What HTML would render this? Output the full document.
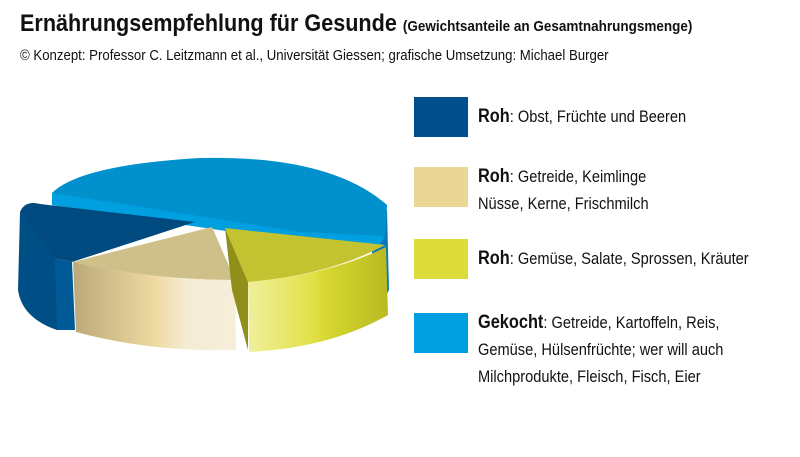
<!DOCTYPE html>
<html><head><meta charset="utf-8"><style>
body{margin:0;width:800px;height:457px;background:#fff;font-family:"Liberation Sans",sans-serif;overflow:hidden;position:relative}
.t{position:absolute;white-space:nowrap;color:#111}
.box{position:absolute;width:54px;height:40px}
.lg{position:absolute;font-size:17px;line-height:27px;color:#111;transform:scaleX(0.86);transform-origin:left;white-space:nowrap}
.lg b{font-size:19px}
</style></head><body>
<div class="t" style="left:20px;top:10px;font-size:24px;font-weight:bold;transform:scaleX(0.9);transform-origin:left">Ernährungsempfehlung für Gesunde <span style="font-size:15px;font-weight:bold">(Gewichtsanteile an Gesamtnahrungsmenge)</span></div>
<div class="t" style="left:20px;top:47px;font-size:15px;transform:scaleX(0.88);transform-origin:left">© Konzept: Professor C. Leitzmann et al., Universität Giessen; grafische Umsetzung: Michael Burger</div>
<svg width="800" height="457" style="position:absolute;left:0;top:0">
<defs>
<linearGradient id="bg" x1="0" x2="1"><stop offset="0" stop-color="#bba97a"/><stop offset="0.5" stop-color="#eed9a0"/><stop offset="0.7" stop-color="#f5ecd6"/><stop offset="1" stop-color="#f6eed9"/></linearGradient>
<linearGradient id="yg" x1="0" x2="1"><stop offset="0" stop-color="#f0ef9c"/><stop offset="0.45" stop-color="#e2e14a"/><stop offset="0.55" stop-color="#d7d830"/><stop offset="1" stop-color="#b9ba22"/></linearGradient>
</defs>
<!-- big blue slice -->
<path d="M372,225 L387,210 L389,290 Q385,300 372,305 Z" fill="#0a78b8"/>
<path d="M52,193 Q80,165 200,158 Q330,155 387,205 L385,235 Q340,245 300,242 L52,205 Z" fill="#0090cc"/>
<path d="M52,193 L52,205 L300,242 L378,248 L385,236 L300,232 Z" fill="#00a0e0"/>
<!-- dark blue -->
<path d="M20,212 L18,290 Q22,318 57,330 L57,258 Z" fill="#004e86"/>
<path d="M20,212 Q25,200 40,204 L195,222 L72,262 L55,258 Z" fill="#004a80"/>
<path d="M55,258 L72,262 L75,330 L57,330 Z" fill="#005a96"/>
<!-- beige -->
<path d="M73,262 L212,227 L235,280 Q150,280 73,262 Z" fill="#cfbf88"/>
<path d="M73,262 Q150,280 235,280 L236,350 Q150,352 76,332 Z" fill="url(#bg)"/>
<!-- yellow -->
<path d="M225,228 L248,282 L248,350 L232,290 Z" fill="#8f8f1a"/>
<path d="M225,228 L385,245 Q330,275 248,282 Z" fill="#c3c230"/>
<path d="M248,282 Q330,275 386,247 L388,315 Q330,348 249,352 Z" fill="url(#yg)"/>
</svg>
<div class="box" style="left:414px;top:97px;background:#004f8c"></div>
<div class="lg" style="left:478px;top:103px"><b>Roh</b>: Obst, Früchte und Beeren</div>
<div class="box" style="left:414px;top:167px;background:#ecd695"></div>
<div class="lg" style="left:478px;top:163px"><b>Roh</b>: Getreide, Keimlinge<br>Nüsse, Kerne, Frischmilch</div>
<div class="box" style="left:414px;top:239px;background:#dcdc3a"></div>
<div class="lg" style="left:478px;top:245px"><b>Roh</b>: Gemüse, Salate, Sprossen, Kräuter</div>
<div class="box" style="left:414px;top:313px;background:#009fe0"></div>
<div class="lg" style="left:478px;top:309px"><b>Gekocht</b>: Getreide, Kartoffeln, Reis,<br>Gemüse, Hülsenfrüchte; wer will auch<br>Milchprodukte, Fleisch, Fisch, Eier</div>
</body></html>
